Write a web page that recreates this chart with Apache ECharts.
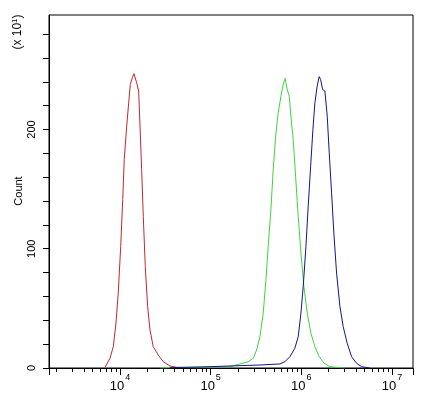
<!DOCTYPE html>
<html>
<head>
<meta charset="utf-8">
<script src="https://cdn.jsdelivr.net/npm/echarts@6/dist/echarts.min.js"></script>
<style>html,body{margin:0;padding:0;background:#fff;}#c{width:434px;height:397px;}</style>
</head>
<body>
<div id="c"></div>
<script>
// x values are log10(fluorescence intensity); y values are counts (x10)
const redLog   = [3.835,3.890,3.926,3.956,3.981,4.008,4.030,4.047,4.074,4.096,4.114,4.136,4.154,4.184,4.206,4.221,4.239,4.257,4.279,4.305,4.331,4.367,4.422,4.477,4.551,4.625,4.772,4.882];
const redCount = [0.6,8.2,17.9,37.8,63.0,101.9,141.2,174.8,202.8,222.4,237.8,243.4,246.8,239.2,232.2,202.8,166.4,127.1,85.1,51.5,31.9,17.9,10.9,5.3,1.7,0.6,0.3,0];

const greenLog   = [4.441,4.662,4.882,5.103,5.213,5.323,5.415,5.470,5.507,5.544,5.580,5.610,5.635,5.665,5.690,5.717,5.745,5.775,5.800,5.822,5.844,5.867,5.885,5.911,5.937,5.966,5.996,6.029,6.065,6.106,6.150,6.197,6.252,6.315,6.426,6.480];
const greenCount = [0,0.5,0.8,1.0,1.1,3.4,5.3,8.2,15.1,26.3,46.0,73.9,101.9,133.0,166.4,194.4,214.0,228.0,237.8,242.9,233.6,228.0,211.2,191.6,160.8,127.1,96.4,68.3,46.0,29.2,17.9,9.5,3.9,1.1,0.3,0];

const blueLog   = [4.551,4.882,5.213,5.544,5.764,5.819,5.874,5.929,5.966,5.996,6.021,6.051,6.076,6.103,6.128,6.150,6.175,6.197,6.213,6.235,6.260,6.286,6.308,6.334,6.359,6.389,6.426,6.462,6.506,6.555,6.610,6.665,6.756];
const blueCount = [0.3,0.8,1.7,2.5,3.4,5.3,9.5,16.6,26.3,46.0,68.3,101.9,135.5,169.2,200.0,222.4,236.4,244.3,242.0,233.6,232.2,211.2,180.4,146.8,113.2,79.6,51.5,34.7,20.8,9.5,3.9,1.1,0];

const xMajorTicks = [4,5,6,7];
const xMinorTicks = [];
for (let n = 3; n <= 6; n++) for (let k = 2; k <= 9; k++) xMinorTicks.push(n + Math.log10(k));
const yTicks = [0,20,40,60,80,100,120,140,160,180,200,220,240,260,280];
const yLabels = [0,100,200];
const yTitle = 'Count';

const xMin = 3.217, xMax = 7.232, yMin = 0, yMax = 296;

function pairs(xs, ys){ return xs.map((x,i)=>[x, ys[i]]); }

const chart = echarts.init(document.getElementById('c'), null, {renderer:'canvas'});
const font = 'Liberation Sans, Arial, sans-serif';
chart.setOption({
  animation: false,
  backgroundColor: '#fff',
  grid: {left:49, top:15, right:21, bottom:29, show:true, borderColor:'#000', borderWidth:1, backgroundColor:'transparent'},
  xAxis: [{
    type:'value', min:xMin, max:xMax, position:'bottom',
    axisLine:{show:true, lineStyle:{color:'#000', width:1}},
    axisTick:{show:true, length:7, lineStyle:{color:'#000'}, customValues:[xMin].concat(xMajorTicks).concat([xMax])},
    axisLabel:{show:true, margin:5, customValues:xMajorTicks, color:'#000', fontFamily:font,
      formatter: v => '{b|10}{s|' + Math.round(v) + '}',
      rich:{ b:{fontSize:13, fontFamily:font, color:'#000', verticalAlign:'bottom', lineHeight:20},
             s:{fontSize:9, fontFamily:font, color:'#000', verticalAlign:'top', lineHeight:20, padding:[0,0,8,1]} }},
    splitLine:{show:false}
  },{
    type:'value', min:xMin, max:xMax, position:'bottom',
    axisLine:{show:false},
    axisTick:{show:true, length:4, lineStyle:{color:'#000'}, customValues:xMinorTicks.filter(v=>v>xMin && v<xMax)},
    axisLabel:{show:false},
    splitLine:{show:false}
  }],
  yAxis: {
    type:'value', min:yMin, max:yMax,
    axisLine:{show:true, lineStyle:{color:'#000', width:1}},
    axisTick:{show:true, length:6, lineStyle:{color:'#000'}, customValues:yTicks},
    axisLabel:{show:true, rotate:90, margin:12, customValues:yLabels, fontSize:11, fontFamily:font, color:'#000'},
    splitLine:{show:false}
  },
  graphic:[{
    type:'text', x:18, y:32, rotation:Math.PI/2,
    style:{text:'{a|(x 10}{s|1}{a|)}', align:'center', verticalAlign:'middle',
      rich:{a:{fontSize:12, fontFamily:font, color:'#000'}, s:{fontSize:8, fontFamily:font, color:'#000', padding:[0,0,6,0]}}}
  },{
    type:'text', x:18.5, y:191, rotation:Math.PI/2,
    style:{text:yTitle, align:'center', verticalAlign:'middle', font:'11px Liberation Sans, Arial, sans-serif', fill:'#000'}
  }],
  series: [
    {type:'line', name:'red', data:pairs(redLog, redCount), showSymbol:false, symbol:'none', lineStyle:{color:'#c0282d', width:1}, itemStyle:{color:'#c0282d'}},
    {type:'line', name:'green', data:pairs(greenLog, greenCount), showSymbol:false, symbol:'none', lineStyle:{color:'#3fd43f', width:1}, itemStyle:{color:'#3fd43f'}},
    {type:'line', name:'blue', data:pairs(blueLog, blueCount), showSymbol:false, symbol:'none', lineStyle:{color:'#14148f', width:1}, itemStyle:{color:'#14148f'}}
  ]
});
</script>
</body>
</html>
